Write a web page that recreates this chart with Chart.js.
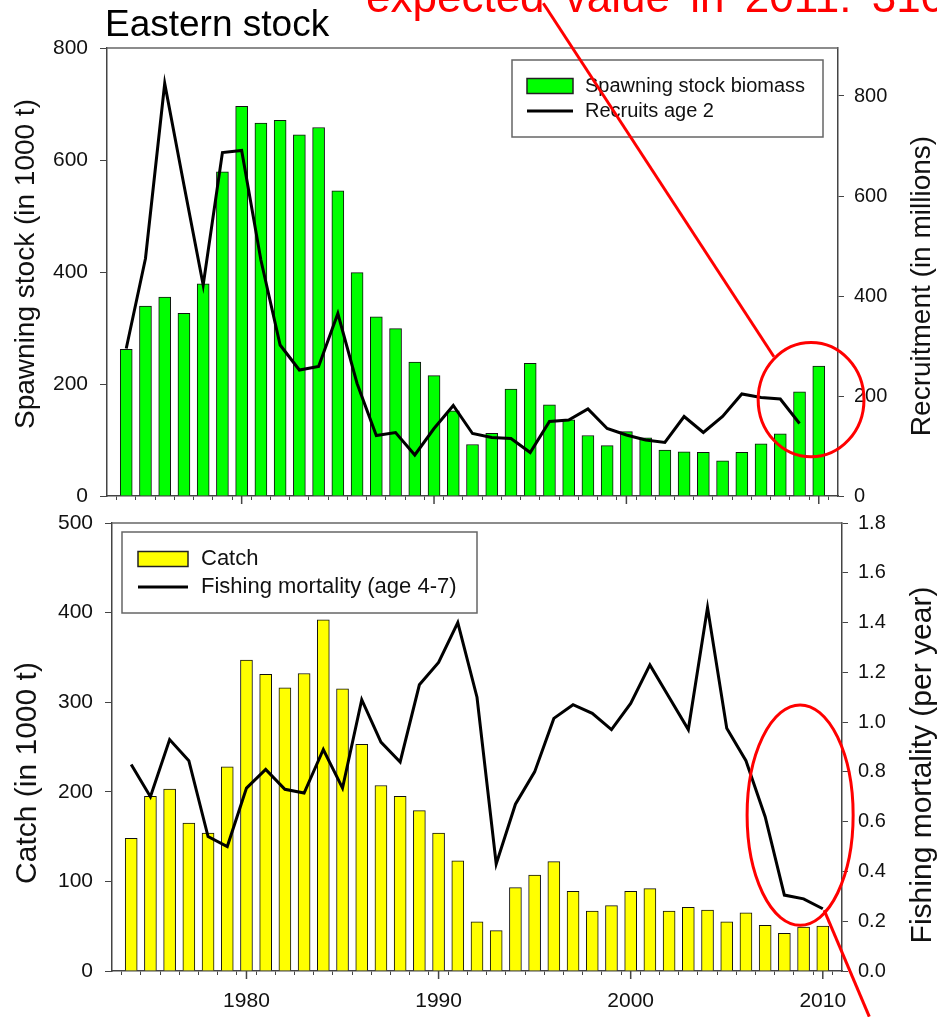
<!DOCTYPE html>
<html><head><meta charset="utf-8">
<script src="https://cdn.jsdelivr.net/npm/chart.js@4.4.1/dist/chart.umd.min.js"></script>
<style>
html,body{margin:0;padding:0;background:#fff;}
#wrap{position:relative;width:937px;height:1017px;overflow:hidden;}
canvas{position:absolute;left:0;}
#c1{top:0}
#c2{top:509px}
</style></head><body>
<div id="wrap"><canvas id="c1" width="937" height="509"></canvas><canvas id="c2" width="937" height="508"></canvas></div>
<script>
const FONT = '"Liberation Sans", Arial, Helvetica, sans-serif';

const years = [1974,1975,1976,1977,1978,1979,1980,1981,1982,1983,1984,1985,1986,1987,1988,1989,1990,1991,1992,1993,1994,1995,1996,1997,1998,1999,2000,2001,2002,2003,2004,2005,2006,2007,2008,2009,2010];
const recruitYears = years.slice(0, 36);
const decadeTicks = [1980, 1990, 2000, 2010];

const ssb = [262,339,355,326,379,579,696,666,671,645,658,545,399,320,299,239,215,152,92,112,191,237,163,136,108,90,115,104,82,79,78,63,78,93,111,186,232];
const recruits = [295,475,825,622,422,687,691,472,302,252,259,365,225,121,127,82,135,181,125,117,115,87,149,152,174,135,122,112,107,159,127,159,204,197,194,145];
const catchT = [148,195,203,165,154,228,347,331,316,332,392,315,253,207,195,179,154,123,55,45,93,107,122,89,67,73,89,92,67,71,68,55,65,51,42,49,50];
const fishingMort = [0.83,0.70,0.93,0.845,0.54,0.50,0.735,0.81,0.73,0.715,0.89,0.735,1.09,0.92,0.84,1.15,1.24,1.40,1.10,0.43,0.67,0.80,1.015,1.07,1.035,0.97,1.075,1.23,1.10,0.97,1.46,0.975,0.845,0.62,0.305,0.29,0.25];

const ssbTicks = [0,200,400,600,800];
const recTicks = [0,200,400,600,800];
const catchTicks = [0,100,200,300,400,500];
const fmTicks = [0,0.2,0.4,0.6,0.8,1.0,1.2,1.4,1.6,1.8];

const pts = (xs, ys) => xs.map((x, i) => ({x, y: ys[i]}));
const AXIS = '#444';

function xAxis(showLabels, fit) {
  return {
    type: 'linear', position: 'bottom', min: 1973, max: 2011, offset: false,
    grid: {drawOnChartArea: false, drawTicks: true, tickLength: 4, color: AXIS, tickColor: AXIS},
    border: {display: true, color: AXIS, width: 1.5},
    ticks: {
      stepSize: 1, autoSkip: false, maxRotation: 0, minRotation: 0, maxTicksLimit: 100,
      padding: 14, color: '#111', font: {family: FONT, size: 21},
      callback: v => (showLabels && v % 10 === 0) ? String(v) : ''
    },
    afterFit: s => { s.height = Math.max(0, fit.xH); s.paddingLeft = 0; s.paddingRight = 0; }
  };
}
function yAxis(pos, min, max, tickVals, width, fmt, fontSize, pad, tl) {
  return {
    type: 'linear', position: pos, min, max,
    grid: {drawOnChartArea: false, drawTicks: true, tickLength: tl, color: AXIS, tickColor: AXIS},
    border: {display: true, color: AXIS, width: 1.5},
    ticks: {padding: pad, color: '#111', font: {family: FONT, size: fontSize}, callback: fmt},
    afterBuildTicks: s => { s.ticks = tickVals.map(v => ({value: v})); },
    afterFit: s => { s.width = width; s.paddingTop = 0; s.paddingBottom = 0; }
  };
}

function vText(ctx, text, x, y, size, color) {
  ctx.save();
  ctx.translate(x, y);
  ctx.rotate(-Math.PI / 2);
  ctx.font = size + 'px ' + FONT;
  ctx.fillStyle = color || '#111';
  ctx.textAlign = 'center';
  ctx.textBaseline = 'middle';
  ctx.fillText(text, 0, 0);
  ctx.restore();
}

function decorPlugin(cfg) {
  return {
    id: 'decor',
    afterDraw(chart) {
      const {ctx, chartArea: ca, scales} = chart;
      const xs = scales.x, yl = scales.y;
      ctx.save();
      ctx.strokeStyle = '#666'; ctx.lineWidth = 1.5;
      ctx.beginPath(); ctx.moveTo(ca.left, ca.top); ctx.lineTo(ca.right, ca.top); ctx.stroke();
      ctx.strokeStyle = AXIS; ctx.lineWidth = 1.5;
      decadeTicks.forEach(v => {
        const px = xs.getPixelForValue(v);
        ctx.beginPath(); ctx.moveTo(px, ca.bottom); ctx.lineTo(px, ca.bottom + 8); ctx.stroke();
      });
      const L = cfg.legend;
      const bx = ca.left + L.dx, by = ca.top + L.dy;
      ctx.strokeStyle = '#666'; ctx.lineWidth = 1.5;
      ctx.strokeRect(bx, by, L.w, L.h);
      ctx.fillStyle = L.fill; ctx.strokeStyle = '#222'; ctx.lineWidth = 1.5;
      ctx.fillRect(bx + L.sx, by + L.r1 - L.sh / 2, L.sw, L.sh);
      ctx.strokeRect(bx + L.sx, by + L.r1 - L.sh / 2, L.sw, L.sh);
      ctx.strokeStyle = '#000'; ctx.lineWidth = 3;
      ctx.beginPath(); ctx.moveTo(bx + L.sx, by + L.r2); ctx.lineTo(bx + L.sx + L.sw, by + L.r2); ctx.stroke();
      ctx.fillStyle = '#111'; ctx.font = L.fs + 'px ' + FONT; ctx.textBaseline = 'middle'; ctx.textAlign = 'left';
      ctx.fillText(L.t1, bx + L.tx, by + L.r1);
      ctx.fillText(L.t2, bx + L.tx, by + L.r2);
      const cy = (ca.top + ca.bottom) / 2;
      vText(ctx, cfg.leftTitle, cfg.leftTitleX, cy + cfg.leftDy, cfg.titleSize);
      vText(ctx, cfg.rightTitle, cfg.rightTitleX, cy + cfg.rightDy, cfg.titleSize);
      ctx.strokeStyle = '#ff0000'; ctx.lineWidth = 3;
      cfg.ellipses.forEach(e => {
        const cx = xs.getPixelForValue(e.x), cyy = yl.getPixelForValue(e.y);
        const rx = Math.abs(xs.getPixelForValue(e.x + e.rx) - cx);
        const ry = Math.abs(yl.getPixelForValue(e.y + e.ry) - cyy);
        ctx.beginPath(); ctx.ellipse(cx, cyy, rx, ry, 0, 0, Math.PI * 2); ctx.stroke();
      });
      cfg.lines.forEach(l => {
        ctx.beginPath();
        ctx.moveTo(xs.getPixelForValue(l.x1), yl.getPixelForValue(l.y1));
        ctx.lineTo(xs.getPixelForValue(l.x2), yl.getPixelForValue(l.y2));
        ctx.stroke();
      });
      if (cfg.extra) cfg.extra(ctx);
      ctx.restore();
    }
  };
}

function settle(chart, fit, top, bottom) {
  for (let i = 0; i < 6; i++) {
    const ca = chart.chartArea;
    const dt = ca.top - top, db = ca.bottom - bottom;
    if (Math.abs(dt) < 0.5 && Math.abs(db) < 0.5) return;
    chart.config.options.layout.padding.top = Math.max(0, chart.config.options.layout.padding.top - dt);
    fit.xH += db;
    chart.update();
  }
}

// ---------- top chart ----------
const fit1 = {xH: 13};
const chart1 = new Chart(document.getElementById('c1'), {
  data: {
    datasets: [
      {type: 'line', label: 'Recruits age 2', data: pts(recruitYears, recruits), yAxisID: 'yR',
       borderColor: '#000', borderWidth: 3, pointRadius: 0, tension: 0, order: 0},
      {type: 'bar', label: 'Spawning stock biomass', data: pts(years, ssb), yAxisID: 'y',
       backgroundColor: '#00ff00', borderColor: '#111', borderWidth: 1, barThickness: 12, order: 1}
    ]
  },
  options: {
    responsive: false, animation: false,
    layout: {padding: {top: 48, bottom: 0, left: 0, right: 0}},
    plugins: {legend: {display: false}, tooltip: {enabled: false}},
    scales: {
      x: xAxis(false, fit1),
      y: yAxis('left', 0, 800, ssbTicks, 107, v => String(v), 21, 12, 7),
      yR: yAxis('right', 0, 896, recTicks, 99, v => String(v), 20, 10, 6)
    }
  },
  plugins: [decorPlugin({
    legend: {dx: 405, dy: 12, w: 311, h: 77, sx: 15, sw: 46, sh: 15, r1: 26, r2: 51, tx: 73, fs: 20,
             fill: '#00ff00', t1: 'Spawning stock biomass', t2: 'Recruits age 2'},
    titleSize: 28,
    leftTitle: 'Spawning stock (in 1000 t)', leftTitleX: 26, leftDy: -8,
    rightTitle: 'Recruitment (in millions)', rightTitleX: 922, rightDy: 14,
    ellipses: [{x: 2009.6, y: 172, rx: 2.75, ry: 102}],
    lines: [{x1: 1995.68, y1: 880, x2: 2007.67, y2: 248.7}],
    extra(ctx) {
      ctx.font = '37px ' + FONT; ctx.fillStyle = '#000'; ctx.textAlign = 'left'; ctx.textBaseline = 'alphabetic';
      ctx.fillText('Eastern stock', 105, 36);
      ctx.font = '44px ' + FONT; ctx.fillStyle = '#ff0000';
      try { ctx.wordSpacing = '8px'; } catch (e) {}
      ctx.fillText('expected value in 2011: 310 000 t', 366, 12);
      try { ctx.wordSpacing = '0px'; } catch (e) {}
    }
  })]
});
settle(chart1, fit1, 48, 496);

// ---------- bottom chart ----------
const fit2 = {xH: 46};
const chart2 = new Chart(document.getElementById('c2'), {
  data: {
    datasets: [
      {type: 'line', label: 'Fishing mortality (age 4-7)', data: pts(years, fishingMort), yAxisID: 'yR',
       borderColor: '#000', borderWidth: 3, pointRadius: 0, tension: 0, order: 0},
      {type: 'bar', label: 'Catch', data: pts(years, catchT), yAxisID: 'y',
       backgroundColor: '#ffff00', borderColor: '#111', borderWidth: 1, barThickness: 12, order: 1}
    ]
  },
  options: {
    responsive: false, animation: false,
    layout: {padding: {top: 14, bottom: 0, left: 0, right: 0}},
    plugins: {legend: {display: false}, tooltip: {enabled: false}},
    scales: {
      x: xAxis(true, fit2),
      y: yAxis('left', 0, 500, catchTicks, 112, v => String(v), 21, 12, 7),
      yR: yAxis('right', 0, 1.8, fmTicks, 95, v => v.toFixed(1), 20, 10, 6)
    }
  },
  plugins: [decorPlugin({
    legend: {dx: 10, dy: 9, w: 355, h: 81, sx: 16, sw: 50, sh: 15, r1: 27, r2: 55, tx: 79, fs: 22,
             fill: '#ffff00', t1: 'Catch', t2: 'Fishing mortality (age 4-7)'},
    titleSize: 30,
    leftTitle: 'Catch (in 1000 t)', leftTitleX: 28, leftDy: 26,
    rightTitle: 'Fishing mortality (per year)', rightTitleX: 923, rightDy: 18,
    ellipses: [{x: 2008.82, y: 174, rx: 2.76, ry: 123}],
    lines: [{x1: 2010.07, y1: 68, x2: 2012.42, y2: -51}]
  })]
});
settle(chart2, fit2, 14, 462);
</script>
</body></html>
